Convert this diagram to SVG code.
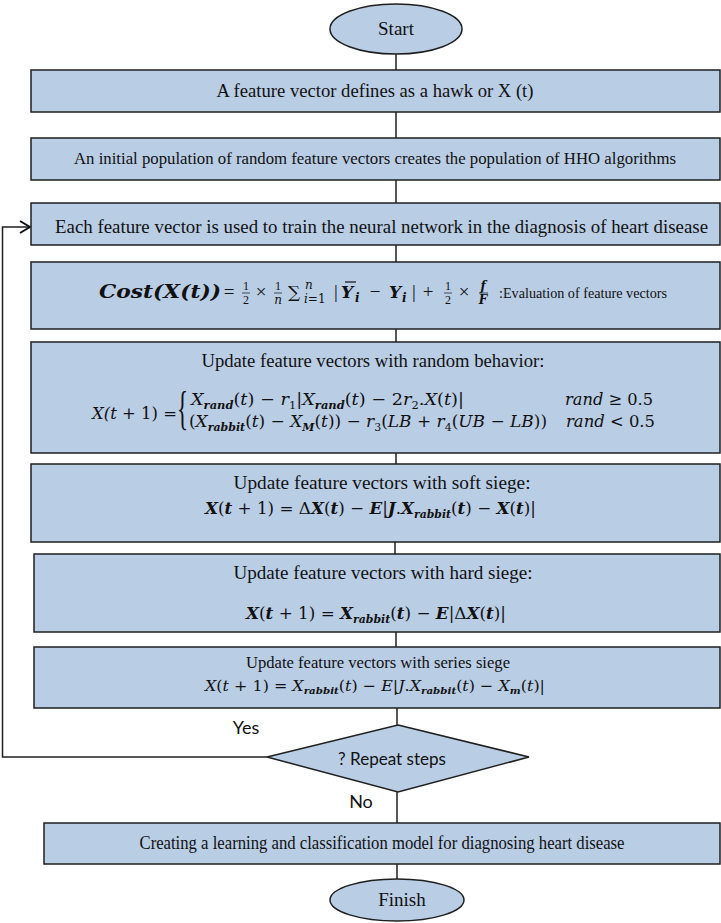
<svg xmlns="http://www.w3.org/2000/svg" width="721" height="923" viewBox="0 0 721 923">
<defs>
<style>
.box{fill:#B9CDE5;stroke:#1f1f1f;stroke-width:1.5}
.ln{fill:none;stroke:#1f1f1f;stroke-width:1.5}
.t{font-family:"Liberation Serif","Times New Roman",serif;font-size:19px;fill:#111}
.c{text-anchor:middle}
.mi{font-family:"DejaVu Serif","Liberation Serif",serif;font-style:italic;font-size:17px;fill:#111}
.mb{font-family:"DejaVu Serif","Liberation Serif",serif;font-style:italic;font-weight:bold;font-size:17px;fill:#111}
.up{font-family:"DejaVu Serif","Liberation Serif",serif;font-style:normal;font-weight:normal}
.sm{font-size:12px}
.sub{font-size:11px}
.s{font-family:"Lato","Noto Sans","Liberation Sans",sans-serif;font-size:18px;fill:#111}
</style>
<marker id="arr" markerWidth="12" markerHeight="14" refX="11" refY="7" orient="auto" markerUnits="userSpaceOnUse">
<path d="M1,1 L11,7 L1,13" fill="none" stroke="#111" stroke-width="2"/>
</marker>
</defs>
<rect width="721" height="923" fill="#fff"/>

<g id="connectors">
<line class="ln" x1="396" y1="54" x2="396" y2="70"/>
<line class="ln" x1="396" y1="112" x2="396" y2="138"/>
<line class="ln" x1="396" y1="180" x2="396" y2="203"/>
<line class="ln" x1="396" y1="245" x2="396" y2="262"/>
<line class="ln" x1="396" y1="329" x2="396" y2="342"/>
<line class="ln" x1="396" y1="453" x2="396" y2="464"/>
<line class="ln" x1="395" y1="542" x2="395" y2="554"/>
<line class="ln" x1="396" y1="632" x2="396" y2="647"/>
<line class="ln" x1="397" y1="708" x2="397" y2="725"/>
<line class="ln" x1="397" y1="792" x2="397" y2="823"/>
<line class="ln" x1="397" y1="864" x2="397" y2="879"/>
<polyline class="ln" points="267,757 2.5,757 2.5,227 30,227" stroke-width="2" marker-end="url(#arr)"/>
<text class="s c" x="246" y="734">Yes</text>
<text class="s c" x="361" y="808">No</text>
</g>

<g id="start">
<ellipse cx="396" cy="29" rx="66" ry="25" class="box"/>
<text class="t c" x="396" y="35">Start</text>
</g>

<g id="n1">
<rect class="box" x="31" y="70" width="689" height="42"/>
<text class="t c" x="375" y="97" style="font-size:19px" textLength="317" lengthAdjust="spacingAndGlyphs">A feature vector defines as a hawk or X (t)</text>
</g>

<g id="n2">
<rect class="box" x="31" y="138" width="689" height="42"/>
<text class="t c" x="375" y="164" style="font-size:17.5px" textLength="602" lengthAdjust="spacingAndGlyphs">An initial population of random feature vectors creates the population of HHO algorithms</text>
</g>

<g id="n3">
<rect class="box" x="31" y="203" width="689" height="42"/>
<text class="t c" x="381.5" y="233" style="font-size:18.5px" textLength="653" lengthAdjust="spacingAndGlyphs">Each feature vector is used to train the neural network in the diagnosis of heart disease</text>
</g>

<g id="n4">
<rect class="box" x="31" y="262" width="689" height="67"/>
<text class="mb" x="99" y="298" style="font-size:18px" textLength="122" lengthAdjust="spacingAndGlyphs">Cost(X(t))</text>
<text class="t c" x="229" y="298">=</text>
<text class="t c sm" x="246" y="290">1</text><line x1="242" y1="293" x2="250" y2="293" stroke="#111" stroke-width="0.7"/><text class="t c sm" x="246" y="304">2</text>
<text class="t c" x="261" y="298">×</text>
<text class="t c sm" x="278" y="290">1</text><line x1="274" y1="293" x2="282" y2="293" stroke="#111" stroke-width="0.7"/><text class="mi c sm" x="278" y="304">n</text>
<text class="mi up" x="288" y="298" style="font-size:17px">∑</text>
<text class="mi sm" x="305" y="289">n</text>
<text class="mi sm" x="304" y="303">i<tspan class="up">=1</tspan></text>
<text class="t" x="334" y="298">|</text>
<text class="mb" x="341" y="298">Y</text><line x1="345" y1="282" x2="356" y2="282" stroke="#111" stroke-width="1.2"/>
<text class="mb sm" x="355" y="302">i</text>
<text class="t c" x="375" y="298">−</text>
<text class="mb" x="389" y="298">Y</text>
<text class="mb sm" x="402" y="302">i</text>
<text class="t" x="412" y="298">|</text>
<text class="t c" x="428" y="298">+</text>
<text class="t c sm" x="448" y="290">1</text><line x1="444" y1="293" x2="452" y2="293" stroke="#111" stroke-width="0.7"/><text class="t c sm" x="448" y="304">2</text>
<text class="t c" x="464" y="298">×</text>
<text class="mb c sm" x="483" y="290">f</text><line x1="479" y1="293" x2="488" y2="293" stroke="#111" stroke-width="0.7"/><text class="mb c sm" x="483" y="304">F</text>
<text class="t" x="499" y="298" style="font-size:15.5px" textLength="168" lengthAdjust="spacingAndGlyphs">:Evaluation of feature vectors</text>
</g>

<g id="n5">
<rect class="box" x="31" y="342" width="689" height="111"/>
<text class="t c" x="373" y="367" textLength="343" lengthAdjust="spacingAndGlyphs">Update feature vectors with random behavior:</text>
<text class="mi" x="92" y="419" textLength="85" lengthAdjust="spacingAndGlyphs">X(t<tspan class="up"> + 1) =</tspan></text>
<text class="t" transform="translate(177,424) scale(0.5,1)" style="font-size:46px">{</text>
<text class="mi" x="191" y="405" textLength="273" lengthAdjust="spacingAndGlyphs">X<tspan class="sub" font-weight="bold" dy="4">rand</tspan><tspan dy="-4" class="up">(</tspan>t<tspan class="up">) − </tspan>r<tspan class="sub up" dy="4">1</tspan><tspan dy="-4" class="up">|</tspan>X<tspan class="sub" font-weight="bold" dy="4">rand</tspan><tspan dy="-4" class="up">(</tspan>t<tspan class="up">) − 2</tspan>r<tspan class="sub up" dy="4">2</tspan><tspan dy="-4" class="up">.</tspan>X<tspan class="up">(</tspan>t<tspan class="up">)|</tspan></text>
<text class="mi" x="565" y="405" textLength="88" lengthAdjust="spacingAndGlyphs">rand <tspan class="up">≥ 0.5</tspan></text>
<text class="mi" x="189" y="427" textLength="358" lengthAdjust="spacingAndGlyphs"><tspan class="up">(</tspan>X<tspan class="sub" font-weight="bold" dy="4">rabbit</tspan><tspan dy="-4" class="up">(</tspan>t<tspan class="up">) − </tspan>X<tspan class="sub" font-weight="bold" dy="4">M</tspan><tspan dy="-4" class="up">(</tspan>t<tspan class="up">)) − </tspan>r<tspan class="sub up" dy="4">3</tspan><tspan dy="-4" class="up">(</tspan>LB<tspan class="up"> + </tspan>r<tspan class="sub up" dy="4">4</tspan><tspan dy="-4" class="up">(</tspan>UB<tspan class="up"> − </tspan>LB<tspan class="up">))</tspan></text>
<text class="mi" x="566" y="427" textLength="89" lengthAdjust="spacingAndGlyphs">rand <tspan class="up">&lt; 0.5</tspan></text>
</g>

<g id="n6">
<rect class="box" x="31" y="464" width="689" height="78"/>
<text class="t c" x="382" y="489" textLength="297" lengthAdjust="spacingAndGlyphs">Update feature vectors with soft siege:</text>
<text class="mb" x="205" y="514" textLength="331" lengthAdjust="spacingAndGlyphs">X<tspan class="up">(</tspan>t<tspan class="up"> + 1) = Δ</tspan>X<tspan class="up">(</tspan>t<tspan class="up">) − </tspan>E<tspan class="up">|</tspan>J<tspan class="up">.</tspan>X<tspan class="sub" dy="4">rabbit</tspan><tspan dy="-4" class="up">(</tspan>t<tspan class="up">) − </tspan>X<tspan class="up">(</tspan>t<tspan class="up">)|</tspan></text>
</g>

<g id="n7">
<rect class="box" x="34" y="554" width="686" height="78"/>
<text class="t c" x="383" y="579" textLength="299" lengthAdjust="spacingAndGlyphs">Update feature vectors with hard siege:</text>
<text class="mb" x="246" y="619" textLength="260" lengthAdjust="spacingAndGlyphs">X<tspan class="up">(</tspan>t<tspan class="up"> + 1) = </tspan>X<tspan class="sub" dy="4">rabbit</tspan><tspan dy="-4" class="up">(</tspan>t<tspan class="up">) − </tspan>E<tspan class="up">|Δ</tspan>X<tspan class="up">(</tspan>t<tspan class="up">)|</tspan></text>
</g>

<g id="n8">
<rect class="box" x="34" y="647" width="686" height="61"/>
<text class="t c" x="378" y="668" style="font-size:17.5px" textLength="264" lengthAdjust="spacingAndGlyphs">Update feature vectors with series siege</text>
<text class="mi" x="205" y="691" style="font-size:15.5px" textLength="340" lengthAdjust="spacingAndGlyphs">X<tspan class="up">(</tspan>t<tspan class="up"> + 1) = </tspan>X<tspan font-size="10" font-weight="bold" dy="3">rabbit</tspan><tspan dy="-3" class="up">(</tspan>t<tspan class="up">) − </tspan>E<tspan class="up">|</tspan>J<tspan class="up">.</tspan>X<tspan font-size="10" font-weight="bold" dy="3">rabbit</tspan><tspan dy="-3" class="up">(</tspan>t<tspan class="up">) − </tspan>X<tspan font-size="10" font-weight="bold" dy="3">m</tspan><tspan dy="-3" class="up">(</tspan>t<tspan class="up">)|</tspan></text>
</g>

<g id="decision">
<polygon class="box" points="398,725 529,757 398,792 267,757"/>
<text class="s c" x="392" y="765" textLength="108" lengthAdjust="spacingAndGlyphs">? Repeat steps</text>
</g>

<g id="n9">
<rect class="box" x="44" y="823" width="676" height="41"/>
<text class="t c" x="382" y="849" style="font-size:18px" textLength="485" lengthAdjust="spacingAndGlyphs">Creating a learning and classification model for diagnosing heart disease</text>
</g>

<g id="finish">
<ellipse cx="397" cy="900" rx="67" ry="21" class="box"/>
<text class="t c" x="402" y="906">Finish</text>
</g>
</svg>
